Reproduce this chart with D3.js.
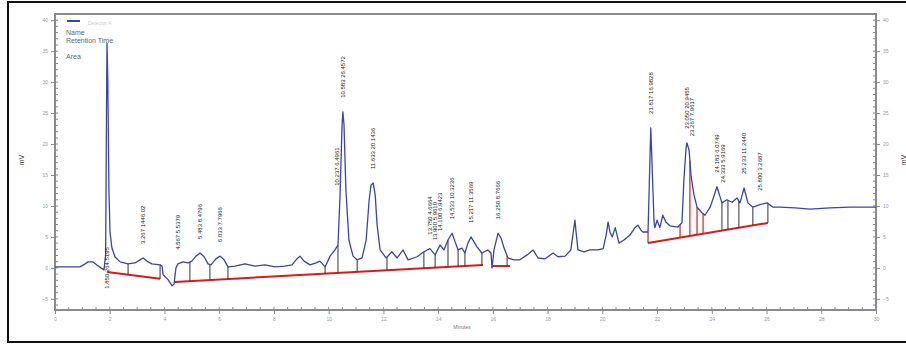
<!DOCTYPE html>
<html>
<head>
<meta charset="utf-8">
<script src="https://cdnjs.cloudflare.com/ajax/libs/d3/7.8.5/d3.min.js"></script>
<style>
  body { margin: 0; background: #fff; }
  svg { display: block; }
  text { font-family: "Liberation Sans", Arial, sans-serif; }
</style>
</head>
<body>
<svg id="chart" width="906" height="345"></svg>
<script>
// detector trace, [minutes, mV]
const trace = [
  [0, 0.16], [0.91, 0.16], [1.10, 0.65], [1.21, 0.97], [1.39, 0.97], [1.53, 0.48],
  [1.68, 0], [1.79, -0.32], [1.85, 2.1], [1.88, 23.9], [1.90, 36.3], [1.93, 30.3],
  [1.97, 12.6], [2.01, 5.8], [2.08, 3.2], [2.19, 1.8], [2.38, 0.97], [2.67, 0.65],
  [2.92, 0.8], [3.11, 1.3], [3.22, 1.6], [3.36, 1.1], [3.54, 0.65], [3.84, 0.48],
  [3.91, 0.3], [3.95, -1.1], [4.13, -1.9], [4.28, -2.9], [4.35, -2.6], [4.42, 0],
  [4.49, 0.65], [4.68, 0.97], [4.86, 0.8], [5.00, 1.1], [5.15, 1.9], [5.30, 2.4],
  [5.45, 1.8], [5.59, 0.65], [5.70, 0.48], [5.88, 1.45], [6.03, 1.9], [6.18, 1.3],
  [6.32, 0.16], [6.58, 0.3], [6.94, 0.65], [7.31, 0.3], [7.67, 0.48], [8.04, 0.16],
  [8.40, 0.3], [8.66, 0.48], [8.81, 1.3], [8.95, 1.9], [9.10, 1.1], [9.32, 0.48],
  [9.54, 0.8], [9.68, 1.1], [9.87, 0.16], [10.05, 1.9], [10.23, 2.9], [10.34, 3.7],
  [10.41, 11], [10.49, 23.1], [10.52, 25.2], [10.56, 23.1], [10.63, 12.6], [10.74, 4.5],
  [10.89, 1.9], [11.04, 1.3], [11.22, 1.6], [11.37, 4.5], [11.48, 11], [11.55, 13.4],
  [11.63, 13.7], [11.70, 11.8], [11.77, 6.9], [11.88, 2.9], [12.10, 1.6], [12.31, 2.6],
  [12.50, 1.6], [12.72, 2.9], [12.90, 1.3], [13.23, 1.8], [13.48, 2.6], [13.70, 3.1],
  [13.89, 2.1], [14.07, 3.7], [14.21, 2.9], [14.36, 4.5], [14.51, 5.6], [14.62, 4.2],
  [14.73, 2.9], [14.87, 3.2], [14.98, 2.4], [15.09, 4.0], [15.20, 5.0], [15.31, 4.2],
  [15.42, 3.4], [15.60, 2.4], [15.82, 2.9], [15.93, 2.4], [15.97, 0], [16.04, 2.9],
  [16.19, 5.6], [16.30, 4.8], [16.41, 3.2], [16.55, 1.6], [16.77, 1.3], [16.99, 1.3],
  [17.25, 2.1], [17.47, 2.9], [17.65, 1.6], [17.90, 1.45], [18.20, 2.4], [18.38, 1.8],
  [18.64, 1.9], [18.85, 2.9], [18.96, 6.5], [19.00, 7.7], [19.04, 5.8], [19.11, 2.9],
  [19.33, 2.6], [19.55, 2.9], [19.84, 2.9], [20.03, 3.1], [20.14, 5.3], [20.21, 7.4],
  [20.28, 5.8], [20.36, 5.0], [20.47, 6.5], [20.54, 5.3], [20.61, 4.0], [20.79, 4.5],
  [21.01, 5.3], [21.19, 6.5], [21.30, 6.9], [21.41, 6.1], [21.48, 5.8], [21.67, 5.8],
  [21.72, 14.2], [21.77, 22.6], [21.83, 15.0], [21.89, 7.4], [21.92, 6.5], [22.00, 7.7],
  [22.10, 6.5], [22.21, 8.5], [22.32, 7.4], [22.47, 6.8], [22.76, 6.6], [22.91, 7.3],
  [22.98, 14.2], [23.06, 19.4], [23.09, 20.2], [23.17, 19.0], [23.24, 15.0], [23.28, 13.7],
  [23.35, 11.8], [23.46, 9.8], [23.64, 8.9], [23.75, 8.5], [23.94, 9.8], [24.08, 11.6],
  [24.19, 13.1], [24.30, 11.5], [24.37, 10.5], [24.55, 11], [24.74, 10.6], [24.92, 11.3],
  [25.03, 10.5], [25.18, 12.9], [25.32, 10.5], [25.50, 9.8], [25.76, 10.2], [26.02, 10.5],
  [26.24, 9.8], [26.49, 9.8], [27.04, 9.7], [27.59, 9.5], [28.32, 9.7], [29.05, 9.8],
  [30.0, 9.8]
];

// integration baselines (red), each [[t0, v0], [t1, v1]]
const baselines = [
  [[1.90, -0.65], [3.84, -1.77]],
  [[4.38, -2.26], [15.64, 0.48]],
  [[15.97, 0.3], [16.63, 0.3]],
  [[21.67, 4.03], [26.05, 7.26]]
];

// peak separators, minutes
const dropsDark = [2.67, 3.84, 4.93, 5.66, 6.32, 9.87, 10.34, 11.04, 12.13, 13.48,
  13.89, 14.36, 14.73, 14.98, 15.60, 15.97, 16.52, 24.37, 24.59, 24.99, 25.50, 26.05];
const dropsRed = [21.67, 22.84, 23.20, 23.46, 23.68];

// peak annotations: retention time and area
const peakTimes = [1.90, 3.22, 4.49, 5.30, 6.03, 10.30, 10.52, 11.63, 13.70, 13.90,
  14.07, 14.51, 15.20, 16.19, 21.77, 23.09, 23.28, 24.19, 24.40, 25.18, 25.76];
const peakTexts = ['1.850 264.5195', '3.267 1446.02', '4.567 5.5379', '5.483 8.4796',
  '6.033 7.7966', '10.237 6.4961', '10.583 26.4572', '11.633 20.1436', '13.750 4.6664',
  '13.900 5.9610', '14.100 6.9423', '14.533 10.3236', '15.217 11.3569', '16.250 8.7666',
  '21.817 16.9828', '23.050 20.9455', '23.267 7.9617', '24.183 6.0749', '24.333 5.9169',
  '25.233 11.2440', '25.800 3.2687'];

const xTickValues = [0, 2, 4, 6, 8, 10, 12, 14, 16, 18, 20, 22, 24, 26, 28, 30];
const yTickValues = [-5, 0, 5, 10, 15, 20, 25, 30, 35, 40];
const legendRows = ['Name', 'Retention Time', 'Area'];

const svg = d3.select('#chart');
const x = d3.scaleLinear().domain([0, 30]).range([55, 876]);
const y = d3.scaleLinear().domain([-6.8, 41]).range([310, 14]);

// outer frame (right edge runs off the page)
svg.append('rect').attr('x', 8).attr('y', 2).attr('width', 920).attr('height', 340)
    .attr('fill', 'none').attr('stroke', '#111').attr('stroke-width', 2);

const axisColor = '#8a8a8a';

// minor ticks
const minorX = d3.range(0, 30.01, 0.5);
svg.append('g').selectAll('line').data(minorX).enter().append('line')
    .attr('x1', (d) => x(d)).attr('x2', (d) => x(d))
    .attr('y1', 310).attr('y2', 307)
    .attr('stroke', axisColor).attr('stroke-width', 1);
const minorY = d3.range(-6, 41, 1);
svg.append('g').selectAll('line').data(minorY).enter().append('line')
    .attr('x1', 55).attr('x2', 58)
    .attr('y1', (d) => y(d)).attr('y2', (d) => y(d))
    .attr('stroke', axisColor).attr('stroke-width', 1);
svg.append('g').selectAll('line').data(minorY).enter().append('line')
    .attr('x1', 876).attr('x2', 873)
    .attr('y1', (d) => y(d)).attr('y2', (d) => y(d))
    .attr('stroke', axisColor).attr('stroke-width', 1);

// axes
const styleAxis = (g) => {
  g.select('.domain').remove();
  g.selectAll('line').attr('stroke', axisColor);
  g.selectAll('text').attr('fill', '#999').style('font-size', '5px');
};
svg.append('g').attr('transform', 'translate(0,310)')
    .call(d3.axisBottom(x).tickValues(xTickValues).tickSize(4).tickPadding(3))
    .call(styleAxis);
svg.append('g').attr('transform', 'translate(55,0)')
    .call(d3.axisLeft(y).tickValues(yTickValues).tickSize(4).tickPadding(3))
    .call(styleAxis);
svg.append('g').attr('transform', 'translate(876,0)')
    .call(d3.axisRight(y).tickValues(yTickValues).tickSize(4).tickPadding(3))
    .call(styleAxis);

// plot frame
svg.append('path')
    .attr('d', 'M55,14H876V310H55Z')
    .attr('fill', 'none').attr('stroke', axisColor).attr('stroke-width', 2);

// axis titles
svg.append('text').attr('x', 462).attr('y', 329).attr('text-anchor', 'middle')
    .attr('fill', '#777').style('font-size', '5px').text('Minutes');
svg.append('text').attr('transform', 'translate(24,160) rotate(-90)')
    .attr('text-anchor', 'middle').attr('fill', '#333')
    .style('font-size', '7px').text('mV');
svg.append('text').attr('transform', 'translate(906,160) rotate(-90)')
    .attr('text-anchor', 'middle').attr('fill', '#333')
    .style('font-size', '7px').text('mV');

// helpers
function valueAt(t) {
  for (let i = 1; i < trace.length; i++) {
    if (trace[i][0] >= t) {
      const a = trace[i - 1];
      const b = trace[i];
      return a[1] + (b[1] - a[1]) * (t - a[0]) / (b[0] - a[0]);
    }
  }
  return trace[trace.length - 1][1];
}
function baseAt(t) {
  for (const seg of baselines) {
    const [a, b] = seg;
    if (t >= a[0] - 0.01 && t <= b[0] + 0.01) {
      return a[1] + (b[1] - a[1]) * (t - a[0]) / (b[0] - a[0]);
    }
  }
  return 0;
}

// baselines
svg.append('g').selectAll('line').data(baselines).enter().append('line')
    .attr('x1', (d) => x(d[0][0])).attr('y1', (d) => y(d[0][1]))
    .attr('x2', (d) => x(d[1][0])).attr('y2', (d) => y(d[1][1]))
    .attr('stroke', '#e01818').attr('stroke-width', 2);

// drop lines
svg.append('g').selectAll('line').data(dropsDark).enter().append('line')
    .attr('x1', (d) => x(d)).attr('x2', (d) => x(d))
    .attr('y1', (d) => y(valueAt(d))).attr('y2', (d) => y(baseAt(d)))
    .attr('stroke', '#333').attr('stroke-width', 1);
svg.append('g').selectAll('line').data(dropsRed).enter().append('line')
    .attr('x1', (d) => x(d)).attr('x2', (d) => x(d))
    .attr('y1', (d) => y(valueAt(d))).attr('y2', (d) => y(baseAt(d)))
    .attr('stroke', '#e01818').attr('stroke-width', 1.2);

// trace
const line = d3.line().x((d) => x(d[0])).y((d) => y(d[1]));
svg.append('path').datum(trace)
    .attr('d', line)
    .attr('fill', 'none').attr('stroke', '#3b42b4').attr('stroke-width', 1.3)
    .attr('stroke-linejoin', 'round');

// peak labels
const labels = svg.append('g');
peakTimes.forEach((t, i) => {
  const near = trace.filter((p) => Math.abs(p[0] - t) <= 0.12).map((p) => p[1]);
  const top = d3.max(near.concat([valueAt(t)]));
  const lbl = labels.append('text')
      .attr('fill', '#222').style('font-size', '6px')
      .text(peakTexts[i]);
  const len = lbl.node().getComputedTextLength();
  let y0 = y(top) - 14;
  if (y0 - len < 16) {
    // no room above: centre it on the baseline
    y0 = y(0) + len / 2;
  }
  lbl.attr('transform', `translate(${x(t) + 2},${y0}) rotate(-90)`);
});

// legend
svg.append('line').attr('x1', 67).attr('x2', 80).attr('y1', 21).attr('y2', 21)
    .attr('stroke', '#3b42b4').attr('stroke-width', 2);
svg.append('text').attr('x', 88).attr('y', 25).attr('fill', '#ccc')
    .style('font-size', '5px').text('Detector A');
svg.append('g').selectAll('text').data(legendRows).enter().append('text')
    .attr('x', 66)
    .attr('y', (d, i) => [35, 43, 59][i])
    .attr('fill', '#666').style('font-size', '7px')
    .text((d) => d);
</script>
</body>
</html>
